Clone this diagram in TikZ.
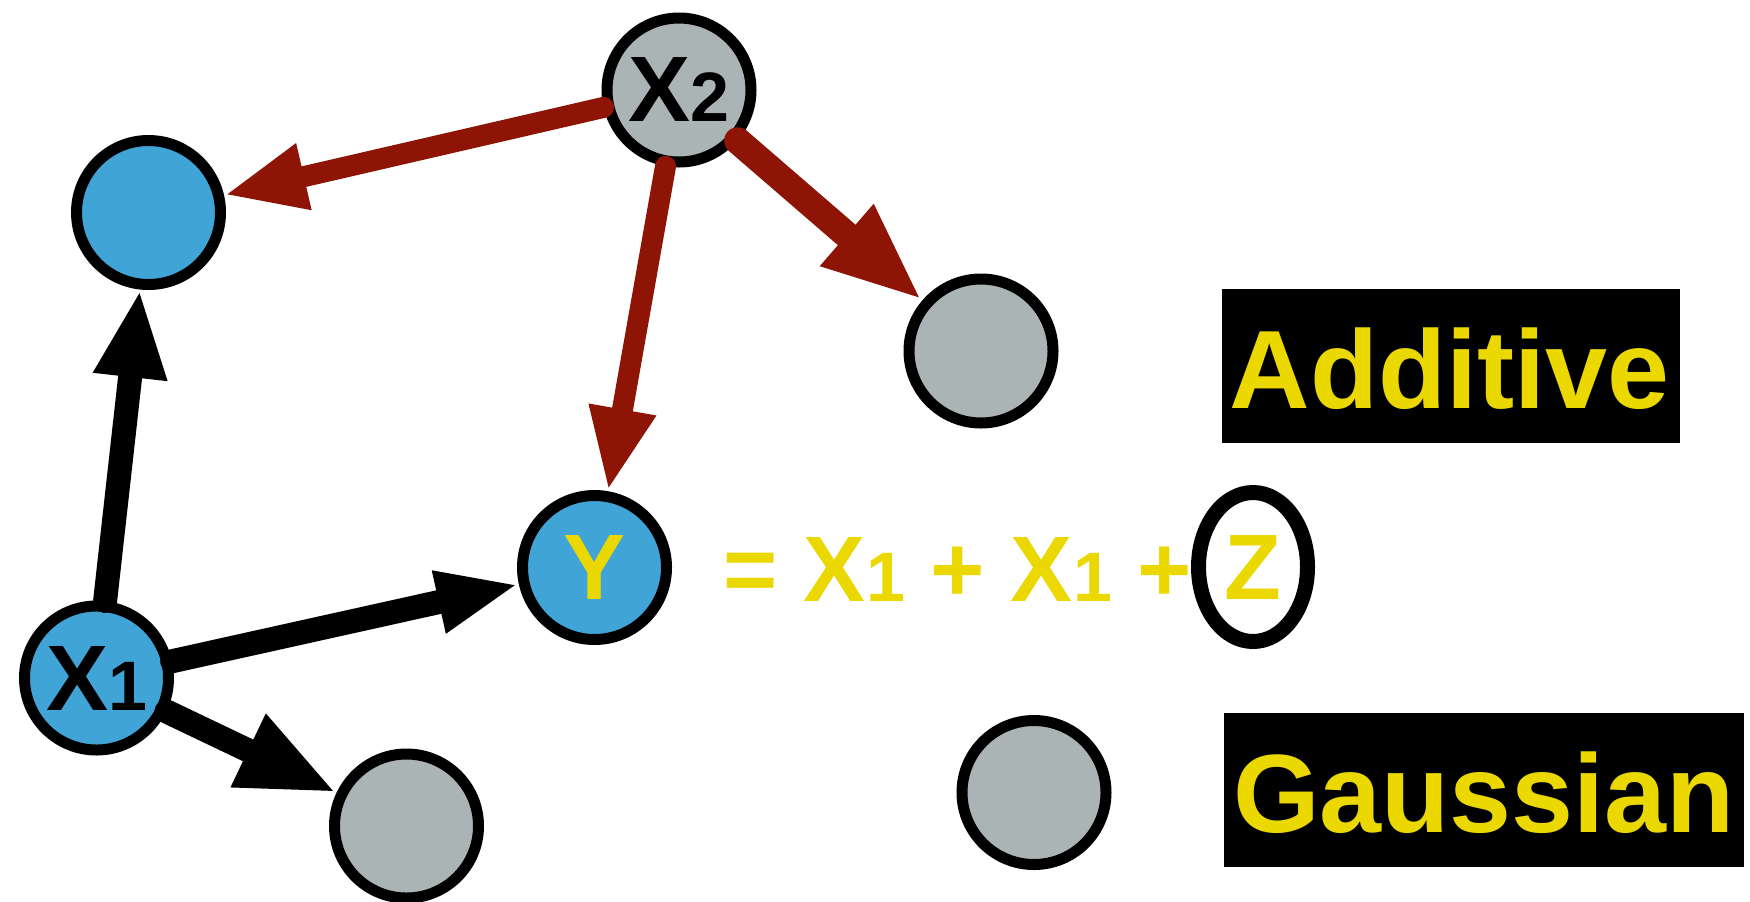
\documentclass[tikz,border=0pt]{standalone}
\usepackage{fontspec}
\setmainfont{Liberation Sans}
\usetikzlibrary{arrows.meta,shapes.geometric}
\definecolor{nodeblue}{HTML}{40A4D7}
\definecolor{nodegray}{HTML}{ABB4B5}
\definecolor{textyellow}{HTML}{EAD800}
\definecolor{edgered}{HTML}{8E1405}
\newcommand\subdig[1]{{\fontsize{35}{35}\selectfont #1}}
\begin{document}
\begin{tikzpicture}[x=0.5pt,y=-0.5pt,
  vnode/.style={circle, draw=black, line width=5.5pt, minimum size=72pt, inner sep=0pt,
    font=\bfseries\fontsize{46.5}{46.5}\selectfont},
  bluenode/.style={vnode, fill=nodeblue},
  graynode/.style={vnode, fill=nodegray},
  eqtext/.style={inner sep=0pt, text=textyellow, font=\bfseries\fontsize{46.5}{46.5}\selectfont},
  zring/.style={ellipse, draw=black, line width=7.5pt, minimum width=54.5pt, minimum height=74.5pt,
    inner sep=0pt, text=textyellow, font=\bfseries\fontsize{46.5}{46.5}\selectfont},
  labelbox/.style={rectangle, fill=black, inner sep=0pt, minimum height=77pt},
  labeltext/.style={inner sep=0pt, text=textyellow, font=\bfseries\fontsize{55.7}{55.7}\selectfont},
  blackedge/.style={line width=12pt, line cap=round, draw=black},
  rededge/.style={line width=10.5pt, line cap=round, draw=edgered}
]
\useasboundingbox (0,0) rectangle (1750,901);

% nodes
\node[graynode] (x2) at (679,90) {X\subdig{2}};
\node[bluenode] (tl) at (148.5,212.5) {};
\node[graynode] (gm) at (981,351) {};
\node[bluenode, text=textyellow] (y) at (594.5,567.5) {Y};
\node[bluenode] (x1) at (96.5,678) {X\subdig{1}};
\node[graynode] (gb) at (406.5,826) {};
\node[graynode] (gr) at (1034,792.5) {};

% equation
\node[eqtext, anchor=base west] (eq) at (723.5,601) {= X\subdig{1} + X\subdig{1} +};
\node[zring] (z) at (1253,567) {Z};

% label boxes
\node[labelbox, minimum width=228.75pt] (addbox) at (1451,366) {};
\node[labeltext] (addtext) at (1449.5,369) {Additive};
\node[labelbox, minimum width=260pt] (gaubox) at (1484,790) {};
\node[labeltext] (gautext) at (1484,793) {Gaussian};

% edges
\draw[blackedge, -{Triangle[length=44pt,width=34pt]}] (x1) -- (tl);
\draw[blackedge, -{Triangle[length=41pt,width=29pt]}] (x1) -- (y);
\draw[blackedge, -{Triangle[length=49pt,width=37pt]}] (x1) -- (gb);
\draw[rededge, -{Triangle[length=41pt,width=31pt]}] (x2) -- (tl);
\draw[rededge, -{Triangle[length=41.5pt,width=31pt]}] (x2) -- (y);
\draw[rededge, line width=13.5pt, -{Triangle[length=50pt,width=37pt]}] (x2) -- (gm);
\end{tikzpicture}
\end{document}
